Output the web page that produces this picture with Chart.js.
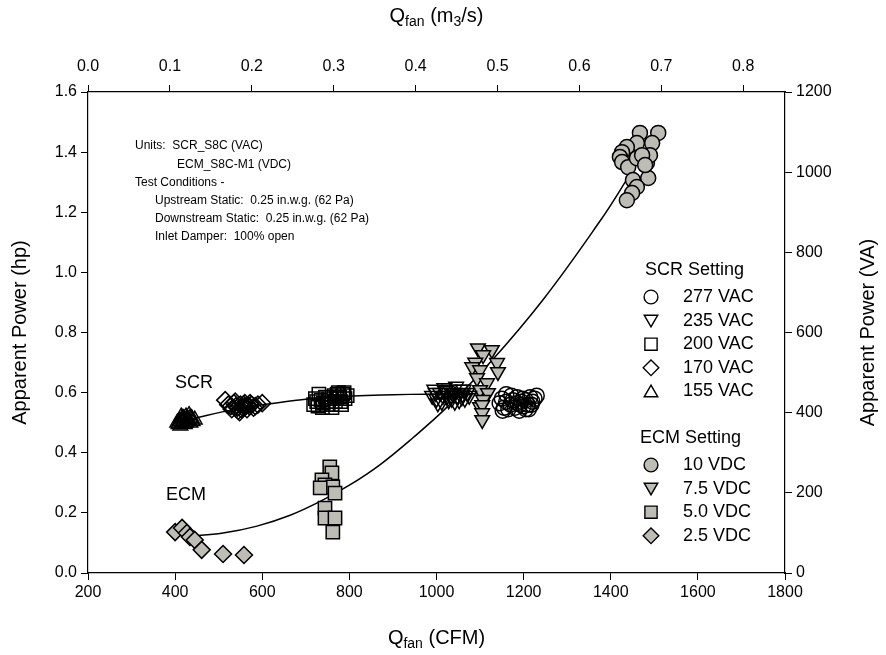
<!DOCTYPE html>
<html lang="en">
<head>
<meta charset="UTF-8">
<title>Apparent Power vs Fan Flow</title>
<style>
  body { margin: 0; background: #fff; }
  #wrap { width: 886px; height: 655px; }
</style>
</head>
<body>
<div id="wrap"><canvas id="powerChart" width="886" height="655"></canvas></div>
<script src="https://cdn.jsdelivr.net/npm/chart.js"></script>
<script>
// tick labels
const cfmTicks = [200, 400, 600, 800, 1000, 1200, 1400, 1600, 1800];
const m3sTicks = [0, 0.1, 0.2, 0.3, 0.4, 0.5, 0.6, 0.7, 0.8];
const hpTicks = [0, 0.2, 0.4, 0.6, 0.8, 1.0, 1.2, 1.4, 1.6];
const vaTicks = [0, 200, 400, 600, 800, 1000, 1200];

// SCR settings (hollow markers)
const scr277Cfm = [1145, 1150, 1155, 1160, 1165, 1170, 1175, 1180, 1185, 1190, 1195, 1200, 1205, 1210, 1215, 1220, 1225, 1230, 1160, 1185, 1205, 1172, 1192, 1212, 1152, 1198, 1218];
const scr277Hp  = [0.565, 0.58, 0.55, 0.57, 0.545, 0.56, 0.575, 0.55, 0.565, 0.54, 0.57, 0.555, 0.575, 0.56, 0.585, 0.57, 0.58, 0.59, 0.595, 0.585, 0.545, 0.59, 0.56, 0.545, 0.54, 0.58, 0.56];
const scr235Cfm = [990, 995, 1000, 1008, 1012, 1020, 1025, 1030, 1035, 1040, 1048, 1055, 1060, 1065, 1070, 1003, 1045, 1015, 1028, 1038, 1052, 1062, 1075, 998, 1018, 1042, 1058];
const scr235Hp  = [0.59, 0.61, 0.58, 0.60, 0.57, 0.605, 0.59, 0.61, 0.58, 0.60, 0.59, 0.61, 0.595, 0.58, 0.60, 0.565, 0.62, 0.59, 0.575, 0.595, 0.575, 0.61, 0.59, 0.6, 0.615, 0.57, 0.585];
const scr200Cfm = [718, 722, 728, 735, 740, 745, 752, 760, 765, 770, 775, 780, 785, 790, 795, 730, 760, 782, 725, 738, 748, 768, 778, 788, 755, 772];
const scr200Hp  = [0.56, 0.58, 0.555, 0.575, 0.565, 0.585, 0.57, 0.56, 0.59, 0.58, 0.60, 0.57, 0.595, 0.58, 0.59, 0.595, 0.55, 0.56, 0.57, 0.55, 0.56, 0.57, 0.585, 0.6, 0.58, 0.595];
const scr170Cfm = [515, 522, 530, 535, 540, 545, 550, 555, 560, 565, 570, 575, 580, 590, 600, 548, 538, 528, 552, 562, 572, 584, 543, 557];
const scr170Hp  = [0.575, 0.56, 0.545, 0.565, 0.555, 0.54, 0.56, 0.55, 0.565, 0.545, 0.555, 0.56, 0.55, 0.56, 0.565, 0.535, 0.57, 0.555, 0.545, 0.555, 0.565, 0.555, 0.55, 0.56];
const scr155Cfm = [405, 410, 412, 415, 418, 420, 422, 425, 428, 430, 432, 435, 438, 440, 414, 424, 408, 417, 427, 434, 445];
const scr155Hp  = [0.50, 0.505, 0.49, 0.51, 0.50, 0.515, 0.495, 0.52, 0.505, 0.51, 0.525, 0.50, 0.515, 0.505, 0.52, 0.50, 0.495, 0.515, 0.51, 0.515, 0.51];

// ECM settings (grey markers)
const ecm10Cfm = [1467, 1509, 1495, 1460, 1437, 1426, 1421, 1426, 1440, 1460, 1483, 1490, 1472, 1486, 1451, 1460, 1449, 1437, 1479];
const ecm10Hp  = [1.464, 1.464, 1.43, 1.43, 1.417, 1.40, 1.384, 1.367, 1.35, 1.38, 1.364, 1.39, 1.39, 1.314, 1.307, 1.284, 1.264, 1.24, 1.357];
const ecm75Cfm = [1095, 1127, 1107, 1089, 1139, 1082, 1100, 1141, 1093, 1116, 1100, 1118, 1107, 1100, 1105, 1105, 1105];
const ecm75Hp  = [0.748, 0.742, 0.725, 0.70, 0.699, 0.685, 0.675, 0.669, 0.649, 0.632, 0.609, 0.599, 0.576, 0.552, 0.559, 0.532, 0.509];
const ecm50Cfm = [755, 760, 737, 744, 762, 733, 767, 744, 744, 767, 762];
const ecm50Hp  = [0.353, 0.333, 0.31, 0.293, 0.286, 0.283, 0.266, 0.216, 0.183, 0.183, 0.136];
const ecm25Cfm = [400, 416, 427, 434, 445, 461, 510, 558];
const ecm25Hp  = [0.136, 0.15, 0.133, 0.12, 0.11, 0.077, 0.063, 0.06];

// fitted curves
const scrFitCfm = [418, 457, 508, 560, 613, 705, 808, 900, 978, 1050, 1120];
const scrFitHp  = [0.505, 0.519, 0.536, 0.55, 0.562, 0.579, 0.589, 0.593, 0.595, 0.596, 0.596];
const ecmFitCfm = [430, 510, 588, 664, 733, 800, 870, 946, 1023, 1123, 1245, 1375, 1433, 1470];
const ecmFitHp  = [0.122, 0.133, 0.156, 0.192, 0.238, 0.292, 0.36, 0.45, 0.55, 0.70, 0.91, 1.17, 1.30, 1.39];

const GREY = '#bebdb5';
const FONT = '"Liberation Sans", Arial, sans-serif';

function pts(xs, ys) {
    return xs.map((x, i) => ({ x: x, y: ys[i] }));
}

// marker definitions shared by datasets and the legend
const markers = {
    circle:  { pointStyle: 'circle', radius: 7.5, rotation: 0 },
    down:    { pointStyle: 'triangle', radius: 8.5, rotation: 180 },
    square:  { pointStyle: 'rect', radius: 9.4, rotation: 0 },
    diamond: { pointStyle: 'rectRot', radius: 8.5, rotation: 0 },
    up:      { pointStyle: 'triangle', radius: 8.5, rotation: 0 }
};

function markerSet(label, xs, ys, m, fill) {
    return {
        label: label,
        data: pts(xs, ys),
        pointStyle: markers[m].pointStyle,
        pointRadius: markers[m].radius,
        pointRotation: markers[m].rotation,
        pointBackgroundColor: fill,
        pointBorderColor: '#000',
        pointBorderWidth: 1.5,
        pointHoverRadius: markers[m].radius,
        showLine: false,
        order: 1
    };
}

function fitSet(label, xs, ys) {
    return {
        label: label,
        data: pts(xs, ys),
        showLine: true,
        borderColor: '#000',
        borderWidth: 1.5,
        pointRadius: 0,
        tension: 0.4,
        order: 2
    };
}

const datasets = [
    fitSet('SCR fit', scrFitCfm, scrFitHp),
    fitSet('ECM fit', ecmFitCfm, ecmFitHp),
    markerSet('277 VAC', scr277Cfm, scr277Hp, 'circle', 'rgba(255,255,255,0)'),
    markerSet('235 VAC', scr235Cfm, scr235Hp, 'down', 'rgba(255,255,255,0)'),
    markerSet('200 VAC', scr200Cfm, scr200Hp, 'square', 'rgba(255,255,255,0)'),
    markerSet('170 VAC', scr170Cfm, scr170Hp, 'diamond', 'rgba(255,255,255,0)'),
    markerSet('155 VAC', scr155Cfm, scr155Hp, 'up', 'rgba(255,255,255,0)'),
    markerSet('10 VDC', ecm10Cfm, ecm10Hp, 'circle', GREY),
    markerSet('7.5 VDC', ecm75Cfm, ecm75Hp, 'down', GREY),
    markerSet('5.0 VDC', ecm50Cfm, ecm50Hp, 'square', GREY),
    markerSet('2.5 VDC', ecm25Cfm, ecm25Hp, 'diamond', GREY)
];

// text with subscripts, drawn centred on (cx, cy)
function drawRich(ctx, parts, cx, cy, angle) {
    ctx.save();
    ctx.translate(cx, cy);
    ctx.rotate(angle || 0);
    ctx.textBaseline = 'middle';
    ctx.fillStyle = '#000';
    let total = 0;
    parts.forEach(p => {
        ctx.font = (p.sub ? 14 : 20) + 'px ' + FONT;
        total += ctx.measureText(p.t).width;
    });
    let x = -total / 2;
    ctx.textAlign = 'left';
    parts.forEach(p => {
        ctx.font = (p.sub ? 14 : 20) + 'px ' + FONT;
        ctx.fillText(p.t, x, p.sub ? 6 : 0);
        x += ctx.measureText(p.t).width;
    });
    ctx.restore();
}

const decorPlugin = {
    id: 'decor',
    afterDraw(chart) {
        const ctx = chart.ctx;
        const area = chart.chartArea;
        const midX = (area.left + area.right) / 2;
        const midY = (area.top + area.bottom) / 2;

        // axis titles
        drawRich(ctx, [{ t: 'Apparent Power (hp)' }], 20, midY, -Math.PI / 2);
        drawRich(ctx, [{ t: 'Apparent Power (VA)' }], 868, midY, -Math.PI / 2);
        drawRich(ctx, [{ t: 'Q' }, { t: 'fan', sub: true }, { t: ' (CFM)' }], midX, 638, 0);
        drawRich(ctx, [{ t: 'Q' }, { t: 'fan', sub: true }, { t: ' (m' }, { t: '3', sub: true }, { t: '/s)' }], midX, 16, 0);

        ctx.save();
        ctx.fillStyle = '#000';
        ctx.textBaseline = 'middle';
        ctx.textAlign = 'left';

        // group labels
        ctx.font = '18px ' + FONT;
        ctx.fillText('SCR', 175, 383);
        ctx.fillText('ECM', 166, 495);

        // test notes
        ctx.font = '12px ' + FONT;
        const notes = [
            ['Units:  SCR_S8C (VAC)', 135],
            ['ECM_S8C-M1 (VDC)', 177],
            ['Test Conditions -', 135],
            ['Upstream Static:  0.25 in.w.g. (62 Pa)', 155],
            ['Downstream Static:  0.25 in.w.g. (62 Pa)', 155],
            ['Inlet Damper:  100% open', 155]
        ];
        notes.forEach((n, i) => ctx.fillText(n[0], n[1], 146 + i * 18.2));

        // legend
        const groups = [
            { title: 'SCR Setting', x: 645, y: 270, items: [['277 VAC', 'circle'], ['235 VAC', 'down'], ['200 VAC', 'square'], ['170 VAC', 'diamond'], ['155 VAC', 'up']], fill: '#fff' },
            { title: 'ECM Setting', x: 640, y: 438, items: [['10 VDC', 'circle'], ['7.5 VDC', 'down'], ['5.0 VDC', 'square'], ['2.5 VDC', 'diamond']], fill: GREY }
        ];
        groups.forEach(g => {
            ctx.font = '18px ' + FONT;
            ctx.fillText(g.title, g.x, g.y);
            g.items.forEach((it, i) => {
                const y = g.y + 27 + i * 23.6;
                const m = markers[it[1]];
                ctx.fillStyle = g.fill;
                ctx.strokeStyle = '#000';
                ctx.lineWidth = 1.4;
                const off = it[1] === 'down' ? -1.5 : (it[1] === 'up' ? 1.5 : 0);
                Chart.helpers.drawPoint(ctx, { pointStyle: m.pointStyle, radius: m.radius * 0.92, rotation: m.rotation, borderWidth: 1.4 }, 651, y + off);
                ctx.fillStyle = '#000';
                ctx.font = '18px ' + FONT;
                ctx.fillText(it[0], 683, y);
            });
        });
        ctx.restore();
    }
};

function axisStyle(list, fmt, pad) {
    return {
        afterBuildTicks: s => { s.ticks = list.map(v => ({ value: v })); },
        ticks: {
            color: '#000',
            font: { family: FONT, size: 16 },
            padding: pad,
            maxRotation: 0,
            autoSkip: false,
            callback: fmt
        },
        grid: { drawOnChartArea: false, drawTicks: true, tickLength: 7, color: '#000', lineWidth: 1 },
        border: { display: true, color: '#000', width: 1.2 }
    };
}

const ctx = document.getElementById('powerChart').getContext('2d');
const powerChart = new Chart(ctx, {
    type: 'scatter',
    data: { datasets: datasets },
    options: {
        responsive: false,
        animation: false,
        devicePixelRatio: 1,
        layout: { padding: 0 },
        plugins: { legend: { display: false }, tooltip: { enabled: false } },
        scales: {
            x: Object.assign(axisStyle(cfmTicks, v => String(v), 3), {
                type: 'linear', position: 'bottom', min: 200, max: 1800,
                afterFit: s => { s.height = 82; }
            }),
            x2: Object.assign(axisStyle(m3sTicks, v => v.toFixed(1), 9), {
                type: 'linear', axis: 'x', position: 'top', min: 0, max: 0.851,
                afterFit: s => { s.height = 92; }
            }),
            y: Object.assign(axisStyle(hpTicks, v => v.toFixed(1), 4), {
                type: 'linear', position: 'left', min: 0, max: 1.6,
                afterFit: s => { s.width = 88; }
            }),
            y2: Object.assign(axisStyle(vaTicks, v => String(v), 4), {
                type: 'linear', axis: 'y', position: 'right', min: 0, max: 1200,
                afterFit: s => { s.width = 101; }
            })
        }
    },
    plugins: [decorPlugin]
});
</script>
</body>
</html>
